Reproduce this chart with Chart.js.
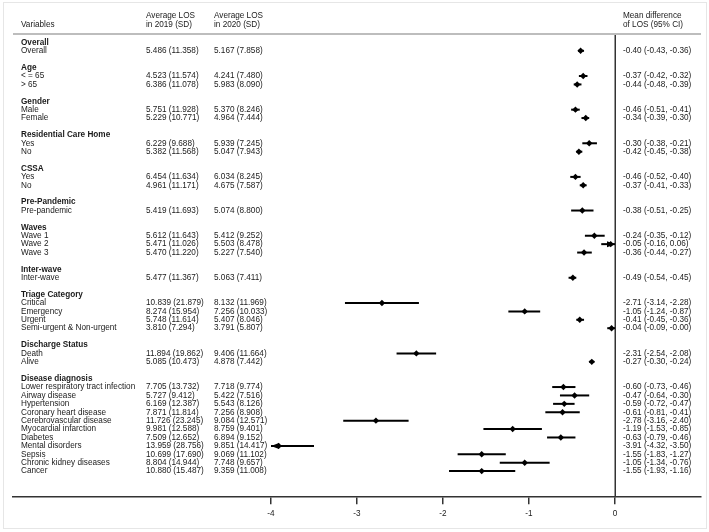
<!DOCTYPE html>
<html><head><meta charset="utf-8">
<script src="https://cdn.jsdelivr.net/npm/chart.js@4"></script>
<style>html,body{margin:0;padding:0;background:#fff;}canvas{display:block;}</style>
</head><body>
<canvas id="c" width="709" height="532"></canvas>
<script>
const groups = ['Overall','Age','Gender','Residential Care Home','CSSA','Pre-Pandemic','Waves','Inter-wave','Triage Category','Discharge Status','Disease diagnosis'];
const groupSizes = [1,2,2,2,2,1,3,1,4,2,11];
const variables = ['Overall','< = 65','> 65','Male','Female','Yes','No','Yes','No','Pre-pandemic','Wave 1','Wave 2','Wave 3','Inter-wave','Critical','Emergency','Urgent','Semi-urgent & Non-urgent','Death','Alive','Lower respiratory tract infection','Airway disease','Hypertension','Coronary heart disease','Cerebrovascular disease','Myocardial infarction','Diabetes','Mental disorders','Sepsis','Chronic kidney diseases','Cancer'];
const avg2019 = [5.486,4.523,6.386,5.751,5.229,6.229,5.382,6.454,4.961,5.419,5.612,5.471,5.470,5.477,10.839,8.274,5.748,3.810,11.894,5.085,7.705,5.727,6.169,7.871,11.726,9.981,7.509,13.959,10.699,8.804,10.880];
const sd2019 = [11.358,11.574,11.078,11.928,10.771,9.688,11.568,11.634,11.171,11.693,11.643,11.026,11.220,11.367,21.879,15.954,11.614,7.294,19.862,10.473,13.732,9.412,12.387,11.814,23.245,12.588,12.652,28.756,17.690,14.944,15.487];
const avg2020 = [5.167,4.241,5.983,5.370,4.964,5.939,5.047,6.034,4.675,5.074,5.412,5.503,5.227,5.063,8.132,7.256,5.407,3.791,9.406,4.878,7.718,5.422,5.543,7.256,9.084,8.759,6.894,9.851,9.069,7.748,9.359];
const sd2020 = [7.858,7.480,8.090,8.246,7.444,7.245,7.943,8.245,7.587,8.800,9.252,8.478,7.540,7.411,11.969,10.033,8.046,5.807,11.664,7.442,9.774,7.516,8.126,8.908,12.571,9.401,9.152,14.417,11.102,9.657,11.008];
const meanDiff = [-0.40,-0.37,-0.44,-0.46,-0.34,-0.30,-0.42,-0.46,-0.37,-0.38,-0.24,-0.05,-0.36,-0.49,-2.71,-1.05,-0.41,-0.04,-2.31,-0.27,-0.60,-0.47,-0.59,-0.61,-2.78,-1.19,-0.63,-3.91,-1.55,-1.05,-1.55];
const ciLow = [-0.43,-0.42,-0.48,-0.51,-0.39,-0.38,-0.45,-0.52,-0.41,-0.51,-0.35,-0.16,-0.44,-0.54,-3.14,-1.24,-0.45,-0.09,-2.54,-0.30,-0.73,-0.64,-0.72,-0.81,-3.16,-1.53,-0.79,-4.32,-1.83,-1.34,-1.93];
const ciHigh = [-0.36,-0.32,-0.39,-0.41,-0.30,-0.21,-0.38,-0.40,-0.33,-0.25,-0.12,0.06,-0.27,-0.45,-2.28,-0.87,-0.36,-0.00,-2.08,-0.24,-0.46,-0.30,-0.47,-0.41,-2.40,-0.85,-0.46,-3.50,-1.27,-0.76,-1.16];
const xTicks = [-4,-3,-2,-1,0];
const plotMin = -4, plotMax = 0;

const rowSlot = [], groupSlot = [];
let s = 0;
groupSizes.forEach(n => { groupSlot.push(s); s++; for (let i = 0; i < n; i++) { rowSlot.push(s); s++; } s++; });

const fmt2 = v => ((v < 0 || Object.is(v, -0)) ? '-' : '') + Math.abs(v).toFixed(2);
const FONT = '"Liberation Sans", Arial, Helvetica, sans-serif';
const FS = 8.2;
const TXT = '#1a1a1a';

const forestPlugin = {
  id: 'forest',
  beforeDraw(chart) {
    const ctx = chart.ctx;
    ctx.save();
    ctx.strokeStyle = '#e6e6e6';
    ctx.lineWidth = 1;
    ctx.strokeRect(3.5, 2.5, 703, 526);
    ctx.restore();
  },
  beforeDatasetsDraw(chart) {
    const ctx = chart.ctx, xs = chart.scales.x, ys = chart.scales.y, ca = chart.chartArea;
    ctx.save();
    ctx.strokeStyle = '#bdbdbd'; ctx.lineWidth = 2;
    ctx.beginPath(); ctx.moveTo(ca.left, ca.top); ctx.lineTo(ca.right, ca.top); ctx.stroke();
    ctx.strokeStyle = '#333'; ctx.lineWidth = 1.5;
    const x0 = Math.round(xs.getPixelForValue(0)) + 0.25;
    ctx.beginPath(); ctx.moveTo(x0, ca.top + 1); ctx.lineTo(x0, ca.bottom); ctx.stroke();
    ctx.strokeStyle = '#000'; ctx.fillStyle = '#000'; ctx.lineWidth = 2;
    meanDiff.forEach((m, i) => {
      const y = ys.getPixelForValue(rowSlot[i]);
      const lo = Math.max(ciLow[i], plotMin), hi = Math.min(ciHigh[i], plotMax);
      const xl = xs.getPixelForValue(lo), xh = xs.getPixelForValue(hi);
      ctx.beginPath(); ctx.moveTo(xl, y); ctx.lineTo(xh, y); ctx.stroke();
      if (ciLow[i] < plotMin) {
        ctx.beginPath(); ctx.moveTo(xl, y); ctx.lineTo(xl + 8, y - 3); ctx.lineTo(xl + 8, y + 3); ctx.closePath(); ctx.fill();
      }
      if (ciHigh[i] > plotMax) {
        ctx.beginPath(); ctx.moveTo(xh, y); ctx.lineTo(xh - 8, y - 3); ctx.lineTo(xh - 8, y + 3); ctx.closePath(); ctx.fill();
      }
    });
    ctx.restore();
  },
  afterDraw(chart) {
    const ctx = chart.ctx, xs = chart.scales.x, ys = chart.scales.y, ca = chart.chartArea;
    const xVar = ca.left + 8, x19 = ca.left + 133, x20 = ca.left + 201, xCI = xs.getPixelForValue(0) + 8;
    ctx.save();
    ctx.fillStyle = TXT; ctx.textBaseline = 'middle'; ctx.textAlign = 'left';
    ctx.font = FS + 'px ' + FONT;
    ctx.fillText('Variables', xVar, 24.5);
    ctx.fillText('Average LOS', x19, 16); ctx.fillText('in 2019 (SD)', x19, 25);
    ctx.fillText('Average LOS', x20, 16); ctx.fillText('in 2020 (SD)', x20, 25);
    ctx.fillText('Mean difference', xCI, 16); ctx.fillText('of LOS (95% CI)', xCI, 25);
    ctx.font = 'bold ' + FS + 'px ' + FONT;
    groups.forEach((g, k) => ctx.fillText(g, xVar, ys.getPixelForValue(groupSlot[k])));
    ctx.font = FS + 'px ' + FONT;
    variables.forEach((v, i) => {
      const y = ys.getPixelForValue(rowSlot[i]);
      ctx.fillText(v, xVar, y);
      ctx.fillText(avg2019[i].toFixed(3) + ' (' + sd2019[i].toFixed(3) + ')', x19, y);
      ctx.fillText(avg2020[i].toFixed(3) + ' (' + sd2020[i].toFixed(3) + ')', x20, y);
      ctx.fillText(fmt2(meanDiff[i]) + ' (' + fmt2(ciLow[i]) + ', ' + fmt2(ciHigh[i]) + ')', xCI, y);
    });
    ctx.restore();
  }
};

new Chart(document.getElementById('c'), {
  type: 'scatter',
  data: {
    datasets: [{
      data: meanDiff.map((m, i) => ({ x: m, y: rowSlot[i] })),
      pointStyle: 'rectRot', pointRadius: 3.2, pointHoverRadius: 3.2,
      backgroundColor: '#000', borderColor: '#000', borderWidth: 0
    }]
  },
  options: {
    responsive: false, animation: false, events: [],
    layout: { padding: { left: 13, right: 8, top: 34, bottom: 8 } },
    plugins: { legend: { display: false }, tooltip: { enabled: false } },
    scales: {
      x: {
        type: 'linear', min: -7, max: 1,
        afterBuildTicks: sc => { sc.ticks = xTicks.map(v => ({ value: v })); },
        grid: { display: true, drawOnChartArea: false, drawTicks: true, tickLength: 7, color: '#333', lineWidth: 1.5 },
        border: { display: true, color: '#333', width: 1.5 },
        ticks: { color: TXT, font: { family: FONT, size: FS }, padding: 5, maxRotation: 0 }
      },
      y: { type: 'linear', reverse: true, min: -1, max: 54.1, display: false }
    }
  },
  plugins: [forestPlugin]
});
</script>
</body></html>
